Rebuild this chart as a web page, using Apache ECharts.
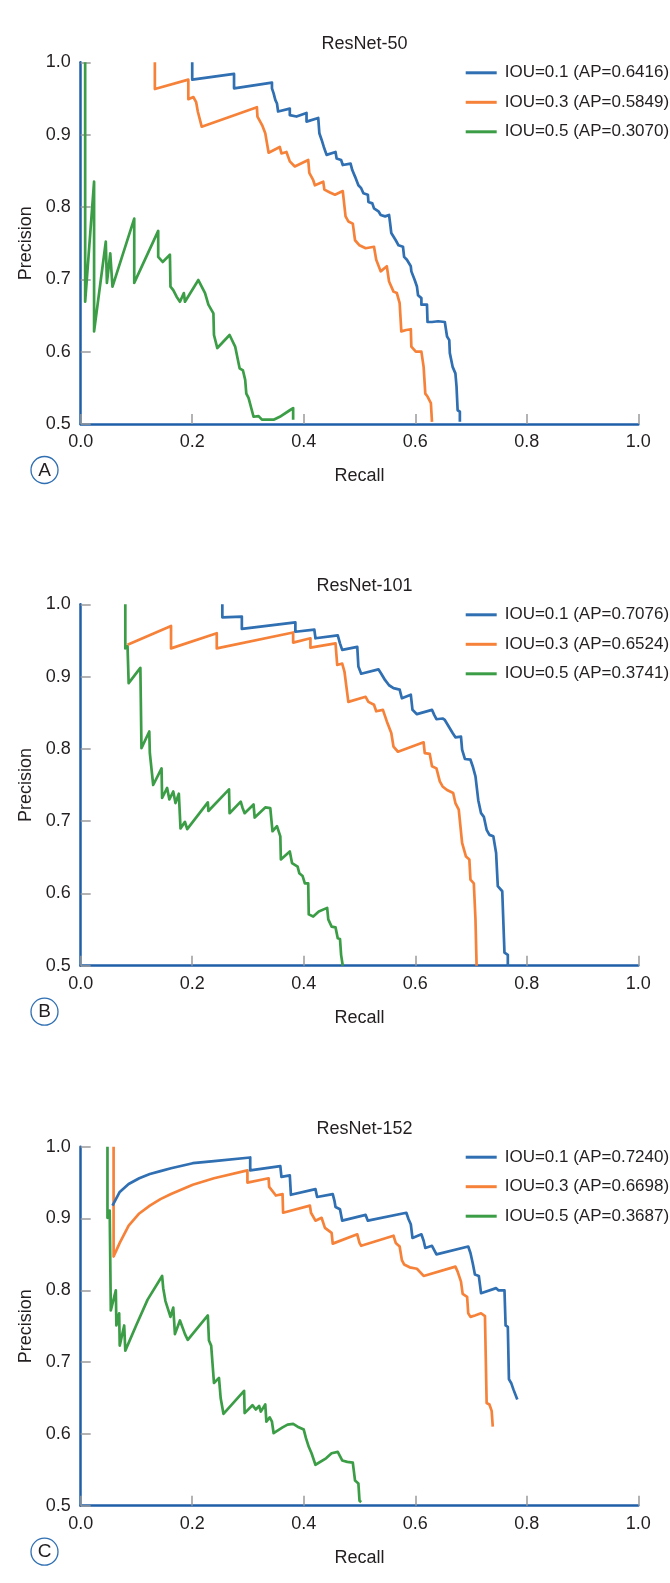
<!DOCTYPE html>
<html>
<head>
<meta charset="utf-8">
<script src="https://cdn.jsdelivr.net/npm/echarts@6/dist/echarts.min.js"></script>
<style>
  html, body { margin: 0; padding: 0; background: #fff; }
  #chart { width: 670px; height: 1583px; }
</style>
</head>
<body>
<div id="chart"></div>
<script>
// panel titles, letters and legend names
const panelTitles = ["ResNet-50", "ResNet-101", "ResNet-152"];
const panelLetters = ["A", "B", "C"];
const legendNames = [
  ["IOU=0.1 (AP=0.6416)", "IOU=0.3 (AP=0.5849)", "IOU=0.5 (AP=0.3070)"],
  ["IOU=0.1 (AP=0.7076)", "IOU=0.3 (AP=0.6524)", "IOU=0.5 (AP=0.3741)"],
  ["IOU=0.1 (AP=0.7240)", "IOU=0.3 (AP=0.6698)", "IOU=0.5 (AP=0.3687)"],
];
const xTicks = [0, 0.2, 0.4, 0.6, 0.8, 1.0];
const yTicks = [0.5, 0.6, 0.7, 0.8, 0.9, 1.0];

// [recall, precision]
const r50Iou1 = [[0.200,1.000],[0.200,0.976],[0.275,0.984],[0.275,0.964],[0.343,0.972],[0.343,0.964],[0.346,0.957],[0.349,0.948],[0.352,0.943],[0.354,0.932],[0.375,0.936],[0.375,0.927],[0.387,0.925],[0.405,0.930],[0.405,0.918],[0.426,0.923],[0.428,0.902],[0.432,0.893],[0.436,0.883],[0.441,0.872],[0.457,0.876],[0.459,0.867],[0.467,0.865],[0.470,0.858],[0.484,0.860],[0.487,0.851],[0.492,0.842],[0.498,0.830],[0.503,0.826],[0.507,0.819],[0.515,0.817],[0.516,0.807],[0.523,0.805],[0.526,0.798],[0.534,0.794],[0.538,0.789],[0.546,0.787],[0.553,0.789],[0.555,0.777],[0.557,0.764],[0.565,0.754],[0.570,0.747],[0.578,0.745],[0.580,0.731],[0.585,0.727],[0.592,0.718],[0.593,0.711],[0.599,0.699],[0.603,0.690],[0.605,0.678],[0.611,0.674],[0.611,0.665],[0.621,0.665],[0.622,0.641],[0.630,0.641],[0.641,0.642],[0.653,0.641],[0.657,0.621],[0.661,0.616],[0.662,0.598],[0.667,0.579],[0.672,0.570],[0.674,0.552],[0.676,0.519],[0.680,0.517],[0.680,0.503]];
const r50Iou3 = [[0.133,1.000],[0.133,0.963],[0.193,0.976],[0.193,0.949],[0.202,0.952],[0.207,0.945],[0.210,0.932],[0.217,0.911],[0.316,0.938],[0.317,0.925],[0.326,0.912],[0.331,0.902],[0.337,0.875],[0.357,0.883],[0.360,0.874],[0.369,0.876],[0.375,0.863],[0.384,0.856],[0.408,0.865],[0.410,0.847],[0.417,0.837],[0.420,0.830],[0.435,0.835],[0.437,0.824],[0.447,0.820],[0.456,0.817],[0.470,0.822],[0.475,0.787],[0.480,0.780],[0.488,0.777],[0.492,0.754],[0.500,0.747],[0.511,0.743],[0.526,0.745],[0.530,0.727],[0.538,0.711],[0.549,0.718],[0.553,0.697],[0.561,0.683],[0.567,0.681],[0.572,0.667],[0.575,0.628],[0.584,0.630],[0.592,0.631],[0.593,0.607],[0.601,0.600],[0.611,0.600],[0.615,0.579],[0.618,0.542],[0.622,0.538],[0.628,0.529],[0.630,0.503]];
const r50Iou5 = [[0.008,1.000],[0.008,0.669],[0.024,0.835],[0.024,0.628],[0.045,0.752],[0.047,0.695],[0.053,0.736],[0.057,0.690],[0.096,0.784],[0.096,0.695],[0.139,0.767],[0.139,0.731],[0.147,0.724],[0.160,0.734],[0.161,0.690],[0.166,0.685],[0.172,0.676],[0.178,0.669],[0.185,0.681],[0.187,0.669],[0.211,0.699],[0.217,0.690],[0.223,0.681],[0.229,0.665],[0.238,0.653],[0.239,0.623],[0.245,0.605],[0.267,0.623],[0.277,0.607],[0.285,0.577],[0.291,0.574],[0.295,0.561],[0.297,0.542],[0.301,0.536],[0.310,0.510],[0.319,0.511],[0.325,0.506],[0.346,0.506],[0.357,0.510],[0.375,0.519],[0.381,0.522],[0.381,0.506]];

const r101Iou1 = [[0.254,1.000],[0.254,0.982],[0.289,0.983],[0.289,0.966],[0.385,0.975],[0.385,0.962],[0.419,0.965],[0.421,0.953],[0.461,0.957],[0.465,0.946],[0.469,0.937],[0.496,0.941],[0.498,0.914],[0.503,0.904],[0.534,0.910],[0.539,0.904],[0.546,0.895],[0.553,0.888],[0.561,0.884],[0.572,0.882],[0.576,0.870],[0.592,0.875],[0.595,0.854],[0.603,0.848],[0.630,0.854],[0.634,0.847],[0.638,0.841],[0.649,0.842],[0.653,0.840],[0.667,0.822],[0.672,0.816],[0.682,0.817],[0.684,0.799],[0.689,0.786],[0.699,0.785],[0.703,0.776],[0.708,0.762],[0.713,0.729],[0.718,0.711],[0.723,0.706],[0.728,0.688],[0.733,0.681],[0.740,0.679],[0.745,0.656],[0.748,0.610],[0.756,0.603],[0.760,0.518],[0.766,0.515],[0.766,0.500]];
const r101Iou3 = [[0.084,0.944],[0.162,0.970],[0.162,0.939],[0.244,0.960],[0.244,0.939],[0.381,0.961],[0.381,0.947],[0.412,0.953],[0.412,0.940],[0.457,0.946],[0.460,0.916],[0.469,0.918],[0.473,0.907],[0.480,0.865],[0.511,0.872],[0.516,0.865],[0.526,0.861],[0.530,0.852],[0.542,0.854],[0.549,0.838],[0.557,0.822],[0.561,0.803],[0.569,0.796],[0.615,0.809],[0.617,0.794],[0.626,0.793],[0.630,0.776],[0.638,0.773],[0.644,0.755],[0.649,0.748],[0.657,0.743],[0.668,0.739],[0.672,0.725],[0.678,0.716],[0.684,0.670],[0.691,0.651],[0.697,0.647],[0.699,0.619],[0.705,0.614],[0.708,0.564],[0.710,0.500]];
const r101Iou5 = [[0.080,1.000],[0.080,0.939],[0.084,0.942],[0.086,0.891],[0.107,0.912],[0.109,0.801],[0.123,0.824],[0.124,0.794],[0.130,0.750],[0.145,0.773],[0.146,0.732],[0.155,0.746],[0.159,0.730],[0.166,0.741],[0.170,0.725],[0.176,0.738],[0.179,0.690],[0.187,0.699],[0.191,0.689],[0.228,0.726],[0.229,0.714],[0.266,0.744],[0.267,0.711],[0.287,0.727],[0.290,0.719],[0.294,0.711],[0.310,0.723],[0.312,0.705],[0.331,0.719],[0.340,0.718],[0.344,0.686],[0.352,0.693],[0.358,0.679],[0.359,0.647],[0.375,0.658],[0.379,0.642],[0.389,0.637],[0.392,0.628],[0.398,0.624],[0.402,0.614],[0.408,0.614],[0.409,0.571],[0.417,0.568],[0.427,0.575],[0.442,0.580],[0.444,0.564],[0.450,0.554],[0.457,0.553],[0.461,0.538],[0.465,0.537],[0.467,0.515],[0.470,0.513],[0.470,0.500]];

const r152Iou1 = [[0.057,0.918],[0.070,0.937],[0.086,0.948],[0.105,0.956],[0.124,0.962],[0.143,0.966],[0.162,0.970],[0.201,0.977],[0.239,0.980],[0.304,0.985],[0.304,0.967],[0.358,0.973],[0.360,0.958],[0.375,0.960],[0.377,0.933],[0.421,0.941],[0.424,0.930],[0.452,0.934],[0.455,0.925],[0.457,0.916],[0.465,0.913],[0.469,0.897],[0.511,0.905],[0.515,0.897],[0.584,0.908],[0.588,0.899],[0.592,0.892],[0.595,0.873],[0.611,0.878],[0.615,0.869],[0.618,0.859],[0.630,0.862],[0.638,0.850],[0.695,0.861],[0.699,0.852],[0.703,0.838],[0.707,0.822],[0.714,0.820],[0.718,0.796],[0.745,0.803],[0.749,0.800],[0.760,0.800],[0.762,0.751],[0.766,0.749],[0.768,0.676],[0.772,0.671],[0.776,0.662],[0.779,0.660],[0.783,0.648]];
const r152Iou3 = [[0.059,1.000],[0.059,0.847],[0.070,0.866],[0.086,0.890],[0.105,0.907],[0.124,0.918],[0.143,0.927],[0.162,0.934],[0.201,0.947],[0.239,0.956],[0.299,0.967],[0.299,0.950],[0.337,0.956],[0.338,0.944],[0.350,0.932],[0.362,0.934],[0.363,0.908],[0.411,0.918],[0.413,0.908],[0.421,0.897],[0.432,0.901],[0.438,0.887],[0.450,0.880],[0.452,0.865],[0.496,0.878],[0.500,0.866],[0.503,0.862],[0.561,0.876],[0.565,0.866],[0.572,0.861],[0.576,0.842],[0.580,0.836],[0.590,0.832],[0.603,0.830],[0.615,0.820],[0.672,0.833],[0.676,0.826],[0.682,0.812],[0.685,0.795],[0.693,0.791],[0.695,0.768],[0.699,0.763],[0.707,0.765],[0.718,0.768],[0.725,0.764],[0.728,0.643],[0.733,0.641],[0.737,0.632],[0.739,0.610]];
const r152Iou5 = [[0.048,1.000],[0.048,0.901],[0.052,0.911],[0.054,0.772],[0.063,0.800],[0.064,0.751],[0.069,0.768],[0.070,0.723],[0.078,0.751],[0.080,0.716],[0.100,0.752],[0.120,0.787],[0.146,0.820],[0.148,0.803],[0.152,0.785],[0.161,0.763],[0.166,0.776],[0.169,0.739],[0.178,0.758],[0.187,0.739],[0.192,0.731],[0.228,0.765],[0.230,0.730],[0.234,0.723],[0.239,0.671],[0.248,0.678],[0.251,0.650],[0.256,0.628],[0.293,0.660],[0.294,0.629],[0.308,0.640],[0.314,0.634],[0.320,0.639],[0.323,0.631],[0.331,0.641],[0.333,0.617],[0.339,0.623],[0.343,0.617],[0.346,0.601],[0.362,0.609],[0.371,0.613],[0.381,0.614],[0.389,0.610],[0.400,0.606],[0.404,0.594],[0.409,0.582],[0.414,0.573],[0.421,0.557],[0.440,0.566],[0.450,0.573],[0.461,0.575],[0.469,0.563],[0.478,0.561],[0.488,0.560],[0.492,0.535],[0.498,0.531],[0.500,0.507],[0.503,0.505]];

const panelData = [
  [r50Iou1, r50Iou3, r50Iou5],
  [r101Iou1, r101Iou3, r101Iou5],
  [r152Iou1, r152Iou3, r152Iou5],
];

const chart = echarts.init(document.getElementById("chart"));

const font = "'Liberation Sans', Arial, sans-serif";
const colors = ["#2f6fb2", "#f6823a", "#3c9d47"];
const axisColor = "#1f5fa8";
const textColor = "#231f20";

const plotLeft = 80.7;
const plotWidth = 557.6;
const panelTops = [62.3, 604.3, 1146.7];
const panelHeights = [361.7, 361.4, 359];

const grids = [];
const xAxes = [];
const yAxes = [];
const series = [];
const titles = [];
const legends = [];
const graphics = [];

panelTops.forEach((top, i) => {
  const height = panelHeights[i];
  const bottomY = top + height;

  grids.push({ left: plotLeft, top: top, width: plotWidth, height: height, containLabel: false });

  xAxes.push({
    type: "value",
    gridIndex: i,
    min: 0,
    max: 1,
    interval: 0.2,
    name: "Recall",
    nameLocation: "middle",
    nameGap: 43,
    nameTextStyle: { color: textColor, fontSize: 18, fontFamily: font },
    axisLine: { show: true, onZero: false, lineStyle: { color: axisColor, width: 2.5 } },
    axisTick: { show: true, inside: true, length: 10, lineStyle: { color: "#9a9a9a", width: 1.5 } },
    axisLabel: {
      color: textColor,
      fontSize: 18,
      fontFamily: font,
      margin: 9,
      formatter: (v) => (xTicks.indexOf(Math.round(v * 10) / 10) >= 0 ? v.toFixed(1) : ""),
    },
    splitLine: { show: false },
  });

  yAxes.push({
    type: "value",
    gridIndex: i,
    min: 0.5,
    max: 1.0,
    interval: 0.1,
    name: "Precision",
    nameLocation: "middle",
    nameGap: 35,
    nameRotate: 90,
    nameTextStyle: { color: textColor, fontSize: 18, fontFamily: font },
    axisLine: { show: true, onZero: false, lineStyle: { color: axisColor, width: 2.5 } },
    axisTick: { show: true, inside: true, length: 10, lineStyle: { color: "#9a9a9a", width: 1.5 } },
    axisLabel: {
      color: textColor,
      fontSize: 18,
      fontFamily: font,
      margin: 10,
      formatter: (v) => (yTicks.indexOf(Math.round(v * 10) / 10) >= 0 ? v.toFixed(1) : ""),
    },
    splitLine: { show: false },
  });

  panelData[i].forEach((data, k) => {
    series.push({
      name: legendNames[i][k],
      type: "line",
      xAxisIndex: i,
      yAxisIndex: i,
      data: data,
      symbol: "none",
      smooth: false,
      z: 3 - k,
      lineStyle: { color: colors[k], width: 2.7, join: "round" },
      itemStyle: { color: colors[k] },
      animation: false,
    });
  });

  titles.push({
    text: panelTitles[i],
    left: plotLeft + plotWidth / 2,
    top: top - 32,
    textAlign: "center",
    textStyle: { color: textColor, fontSize: 18, fontWeight: "normal", fontFamily: font },
  });

  legends.push({
    data: legendNames[i],
    orient: "vertical",
    left: 460.7,
    top: top - 4.5,
    itemWidth: 31,
    itemHeight: 3,
    itemGap: 9.5,
    icon: "rect",
    selectedMode: false,
    textStyle: { color: textColor, fontSize: 17, fontFamily: font, lineHeight: 20, padding: [0, 0, 0, 3] },
  });

  graphics.push({
    type: "group",
    left: 28.5,
    top: bottomY + 30,
    children: [
      {
        type: "circle",
        shape: { cx: 13.5, cy: 13.5, r: 13.5 },
        style: { fill: "none", stroke: "#2f6fb2", lineWidth: 1.3 },
      },
      {
        type: "text",
        x: 13.5,
        y: 14,
        style: {
          text: panelLetters[i],
          fill: textColor,
          font: "19px " + font,
          textAlign: "center",
          textVerticalAlign: "middle",
        },
      },
    ],
  });
});

const option = {
  backgroundColor: "#ffffff",
  animation: false,
  title: titles,
  legend: legends,
  grid: grids,
  xAxis: xAxes,
  yAxis: yAxes,
  series: series,
  graphic: graphics,
};

chart.setOption(option);
</script>
</body>
</html>
